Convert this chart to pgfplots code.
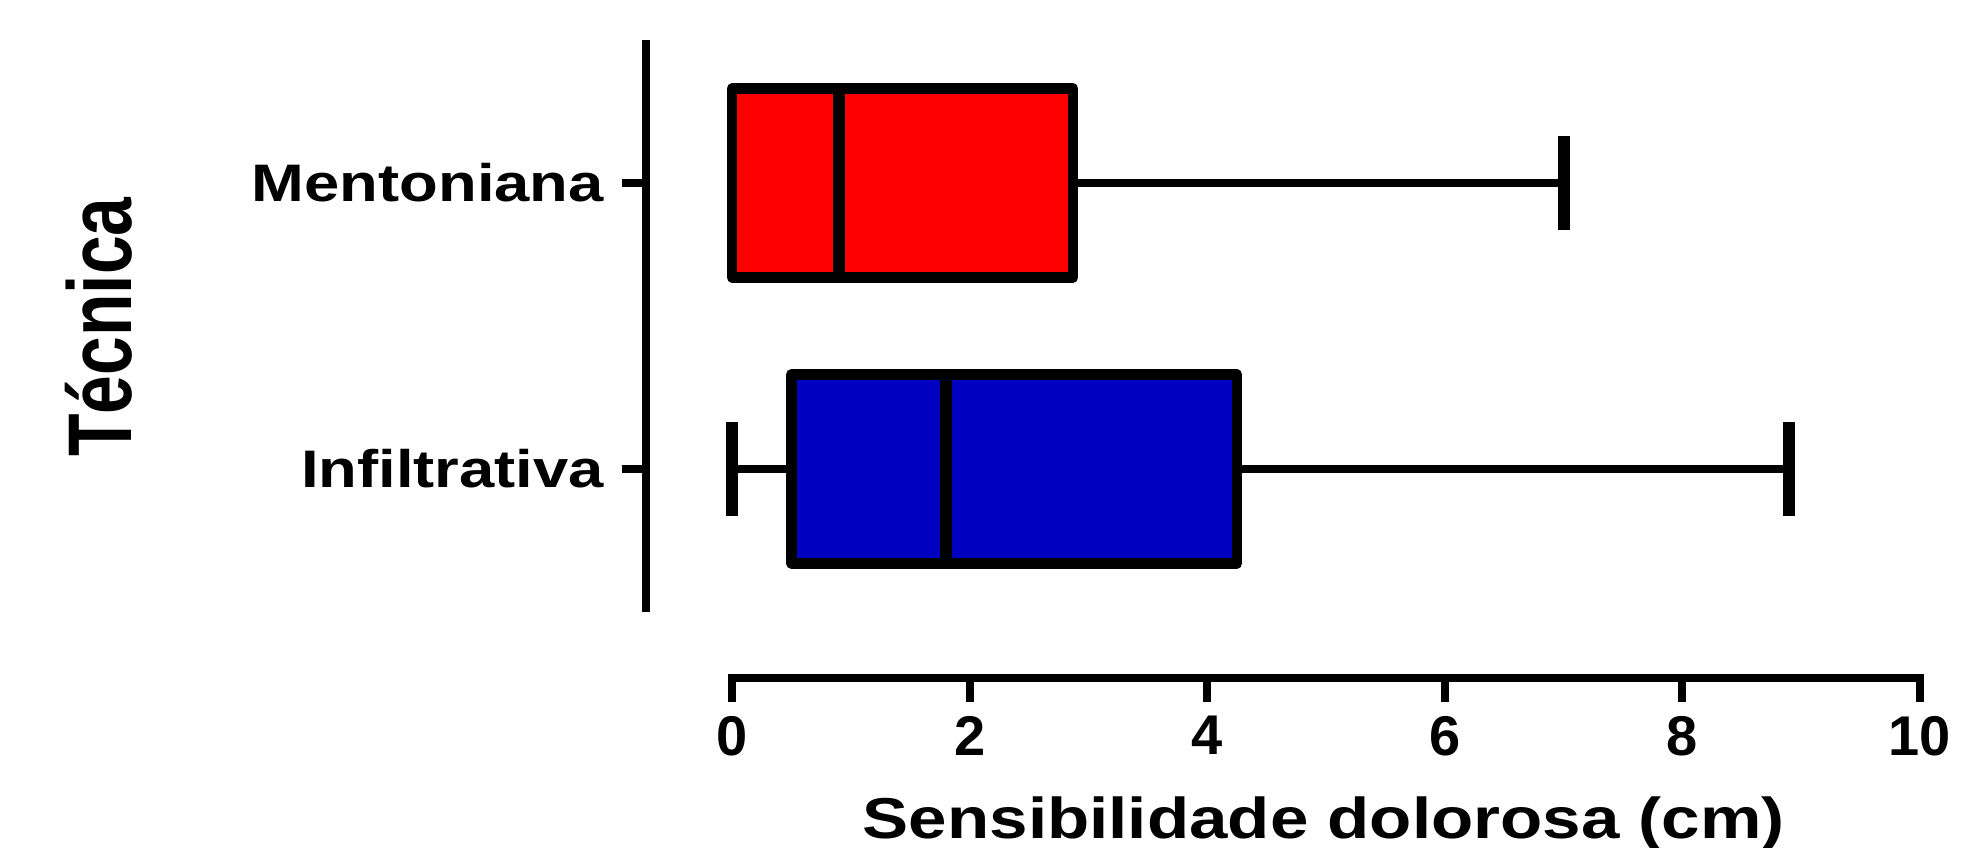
\documentclass[border=0pt]{standalone}
\usepackage{fontspec}
\setmainfont{Liberation Sans}
\newfontfamily\widefont[FakeStretch=1.2]{Liberation Sans}
\usepackage{pgfplots}
\pgfplotsset{compat=1.18}
\usepgfplotslibrary{statistics}
\definecolor{boxred}{RGB}{255,0,0}
\definecolor{boxblue}{RGB}{0,0,192}
\pgfplotsset{
  boxplot/draw/lower whisker/.code={%
    \draw[/pgfplots/boxplot/every whisker/.try]
      (boxplot cs:\pgfplotsboxplotvalue{lower quartile}) --
      (boxplot cs:\pgfplotsboxplotvalue{lower whisker});
    \draw[/pgfplots/boxplot/every whisker/.try, line width=3pt]
      (boxplot whisker cs:\pgfplotsboxplotvalue{lower whisker},0) --
      (boxplot whisker cs:\pgfplotsboxplotvalue{lower whisker},1);
  },
  boxplot/draw/upper whisker/.code={%
    \draw[/pgfplots/boxplot/every whisker/.try]
      (boxplot cs:\pgfplotsboxplotvalue{upper quartile}) --
      (boxplot cs:\pgfplotsboxplotvalue{upper whisker});
    \draw[/pgfplots/boxplot/every whisker/.try, line width=3pt]
      (boxplot whisker cs:\pgfplotsboxplotvalue{upper whisker},0) --
      (boxplot whisker cs:\pgfplotsboxplotvalue{upper whisker},1);
  },
}
\begin{document}
\begin{tikzpicture}
\begin{axis}[
  scale only axis,
  width=318.5pt, height=159.5pt,
  xmin=-0.724, xmax=10,
  ymin=0.269, ymax=2.5,
  axis line style={draw=none},
  clip=false,
  xtick={0,2,4,6,8,10},
  ytick={1,2},
  yticklabels={Infiltrativa,Mentoniana},
  xtick pos=bottom, ytick pos=left,
  x tick label style={font=\fontsize{14}{16}\selectfont\bfseries, inner sep=2pt, yshift=-1.3pt},
  y tick label style={font=\widefont\fontsize{13.2}{15}\selectfont\bfseries, xshift=-1pt},
  /pgf/number format/assume math mode=true,
  tick align=outside,
  major tick length=6pt,
  tick style={line width=2pt, black},
  boxplot/draw direction=x,
  xlabel={Sensibilidade dolorosa (cm)},
  xlabel style={at={(axis description cs:0.532,-0.251)}, anchor=base, inner sep=0pt, text depth=0pt, font=\widefont\fontsize{14.4}{17}\selectfont\bfseries},
  ylabel={\scalebox{1}[1.3]{Técnica}},
  ylabel style={at={(axis description cs:-0.4042,0.550)}, anchor=base, rotate=0, font=\fontsize{17.4}{20}\selectfont\bfseries},
]
\addplot[boxplot prepared={draw position=1, lower whisker=0, lower quartile=0.5, median=1.8, upper quartile=4.25, upper whisker=8.9, box extend=0.66, whisker extend=0.33},
  fill=boxblue, draw=black, line width=2.7pt, line join=round,
  boxplot/every median/.style={line width=3pt},
  boxplot/every whisker/.style={line width=2.2pt}] coordinates {};
\addplot[boxplot prepared={draw position=2, lower whisker=0, lower quartile=0, median=0.9, upper quartile=2.87, upper whisker=7.0, box extend=0.66, whisker extend=0.33},
  fill=boxred, draw=black, line width=2.7pt, line join=round,
  boxplot/draw/lower whisker/.code={},
  boxplot/every median/.style={line width=3pt},
  boxplot/every whisker/.style={line width=2.2pt}] coordinates {};
\draw[line width=2pt, line cap=rect] (axis cs:0,0.269) -- (axis cs:10,0.269);
\draw[line width=2pt] (axis cs:-0.724,0.5) -- (axis cs:-0.724,2.5);
\path (axis description cs:-0.5071,-0.2665) rectangle (axis description cs:1.0377,1.0627);
\end{axis}
\end{tikzpicture}
\end{document}
